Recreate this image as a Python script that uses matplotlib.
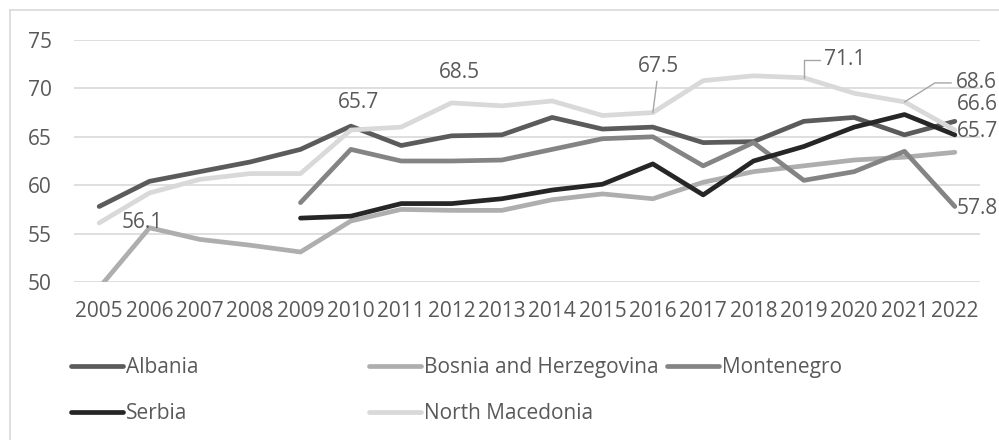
import numpy as np
import matplotlib
matplotlib.use('Agg')
import matplotlib.pyplot as plt
from matplotlib.lines import Line2D

plt.rcParams['font.family'] = ['Open Sans', 'DejaVu Sans']

# Years on the x axis
years = list(range(2005, 2023))
nan = np.nan

# Series values
albania = [57.8, 60.4, 61.4, 62.4, 63.7, 66.1, 64.1, 65.1, 65.2, 67.0,
           65.8, 66.0, 64.4, 64.5, 66.6, 67.0, 65.2, 66.6]
bosnia = [49.4, 55.6, 54.4, 53.8, 53.1, 56.3, 57.5, 57.4, 57.4, 58.5,
          59.1, 58.6, 60.3, 61.4, 62.0, 62.6, 62.9, 63.4]
montenegro = [nan, nan, nan, nan, 58.2, 63.7, 62.5, 62.5, 62.6, 63.7,
              64.8, 65.0, 62.0, 64.4, 60.5, 61.4, 63.5, 57.8]
serbia = [nan, nan, nan, nan, 56.6, 56.8, 58.1, 58.1, 58.6, 59.5,
          60.1, 62.2, 59.0, 62.5, 64.0, 66.0, 67.3, 65.2]
north_macedonia = [56.1, 59.2, 60.6, 61.2, 61.2, 65.7, 66.0, 68.5, 68.2, 68.7,
                   67.2, 67.5, 70.8, 71.3, 71.1, 69.5, 68.6, 65.7]

names = ['Albania', 'Bosnia and Herzegovina', 'Montenegro', 'Serbia', 'North Macedonia']
series = [albania, bosnia, montenegro, serbia, north_macedonia]
colors = ['#5b5b5b', '#aeaeae', '#848484', '#262626', '#d9d9d9']

text_col = '#595959'
fs = 15

fig = plt.figure(figsize=(9.99, 4.40), dpi=100)
ax = fig.add_axes([74 / 999, 158 / 440, 906 / 999, 242 / 440])

lines = []
for name, vals, c in zip(names, series, colors):
    ln, = ax.plot(years, vals, color=c, lw=3.4, solid_capstyle='round',
                  solid_joinstyle='round', label=name)
    lines.append(ln)

ax.set_xlim(2004.5, 2022.5)
ax.set_ylim(50, 75)
ax.set_yticks([50, 55, 60, 65, 70, 75])
ax.set_xticks(years)
ax.grid(axis='y', color='#d9d9d9', lw=1.2)
ax.set_axisbelow(True)
for s in ax.spines.values():
    s.set_visible(False)
ax.tick_params(axis='both', length=0, labelsize=fs, labelcolor=text_col)
ax.tick_params(axis='y', pad=16)
ax.tick_params(axis='x', pad=14)

# Data labels (series index, year, text, offset in pixels, alignment)
labels = [
    (4, 2005, '56.1', (43, 0), 'center'),
    (4, 2010, '65.7', (8, 28), 'center'),
    (4, 2012, '68.5', (8, 30), 'center'),
    (4, 2022, '65.7', (2, -1), 'left'),
    (0, 2022, '66.6', (2, 17), 'left'),
    (2, 2022, '57.8', (2, -2), 'left'),
]
for si, yr, txt, off, ha in labels:
    val = series[si][years.index(yr)]
    ax.annotate(txt, (yr, val), xytext=off, textcoords='offset pixels',
                ha=ha, va='center', fontsize=fs, color=text_col,
                annotation_clip=False)

# Labels with leader lines
lead = dict(arrowstyle='-', color='#a6a6a6', lw=1, shrinkA=1, shrinkB=0)
v = north_macedonia[years.index(2016)]
ax.annotate('67.5', (2016, v), xytext=(6, 46), textcoords='offset pixels',
            ha='center', va='center', fontsize=fs, color=text_col,
            arrowprops=lead)
v = north_macedonia[years.index(2019)]
ax.annotate('71.1', (2019, v), xytext=(41, 18), textcoords='offset pixels',
            ha='center', va='center', fontsize=fs, color=text_col,
            arrowprops=dict(lead, connectionstyle='angle,angleA=0,angleB=90,rad=0'))
v = north_macedonia[years.index(2021)]
ax.annotate('68.6', (2021, v), xytext=(51, 19), textcoords='offset pixels',
            ha='left', va='center', fontsize=fs, color=text_col,
            arrowprops=dict(lead, connectionstyle='angle,angleA=0,angleB=32,rad=0'),
            annotation_clip=False)

# Legend split in three columns with fixed starts
legend_kw = dict(loc='center left', frameon=False, fontsize=fs, labelcolor=text_col,
                 handlelength=2.47, handletextpad=0.15, borderpad=0,
                 borderaxespad=0, labelspacing=1.2)
fig.legend([lines[0], lines[3]], [names[0], names[3]],
           bbox_to_anchor=(71.3 / 999, 0.112), **legend_kw)
fig.legend([lines[1], lines[4]], [names[1], names[4]],
           bbox_to_anchor=(369.3 / 999, 0.112), **legend_kw)
fig.legend([lines[2]], [names[2]],
           bbox_to_anchor=(667.3 / 999, 0.165), **legend_kw)

# Chart border (partly outside the picture)
fig.add_artist(Line2D([10 / 999, 10 / 999], [0, 430 / 440], color='#d9d9d9', lw=1.2))
fig.add_artist(Line2D([10 / 999, 1], [430 / 440, 430 / 440], color='#d9d9d9', lw=1.2))

fig.savefig('out.png', dpi=100)
